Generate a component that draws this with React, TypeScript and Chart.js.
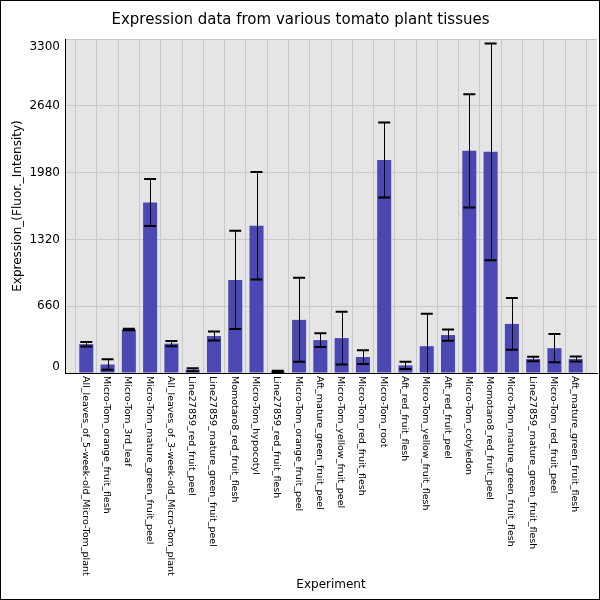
import React, { useEffect, useRef } from 'react';
import { Chart, registerables } from 'chart.js';
Chart.register(...registerables);

const experiments = [
  'All_leaves_of_5-week-old_Micro-Tom_plant',
  'Micro-Tom_orange_fruit_flesh',
  'Micro-Tom_3rd_leaf',
  'Micro-Tom_mature_green_fruit_peel',
  'All_leaves_of_3-week-old_Micro-Tom_plant',
  'Line27859_red_fruit_peel',
  'Line27859_mature_green_fruit_peel',
  'Momotaro8_red_fruit_flesh',
  'Micro-Tom_hypocotyl',
  'Line27859_red_fruit_flesh',
  'Micro-Tom_orange_fruit_peel',
  'Aft_mature_green_fruit_peel',
  'Micro-Tom_yellow_fruit_peel',
  'Micro-Tom_red_fruit_flesh',
  'Micro-Tom_root',
  'Aft_red_fruit_flesh',
  'Micro-Tom_yellow_fruit_flesh',
  'Aft_red_fruit_peel',
  'Micro-Tom_cotyledon',
  'Momotaro8_red_fruit_peel',
  'Micro-Tom_mature_green_fruit_flesh',
  'Line27859_mature_green_fruit_flesh',
  'Micro-Tom_red_fruit_peel',
  'Aft_mature_green_fruit_flesh',
];

const expression = [
  285, 84, 430, 1685, 290, 33, 365, 920, 1455, 15, 525, 325,
  345, 158, 2105, 75, 265, 375, 2195, 2185, 485, 138, 245, 138,
];

const errors = [
  22, 52, 8, 232, 25, 15, 45, 485, 530, 8, 415, 68,
  260, 68, 370, 35, 320, 56, 560, 1070, 255, 22, 140, 25,
];

const yMax = 3300;
const yStep = 660;

const FONT = '"DejaVu Sans", sans-serif';

// grey plot background like the original
const plotBackground = {
  id: 'plotBackground',
  beforeDraw(chart) {
    const { ctx, chartArea } = chart;
    ctx.save();
    ctx.fillStyle = '#e5e5e5';
    ctx.fillRect(chartArea.left, chartArea.top, chartArea.width, chartArea.height);
    ctx.restore();
  },
};

// thin black frame round the whole picture
const frame = {
  id: 'frame',
  afterDraw(chart) {
    const { ctx } = chart;
    ctx.save();
    ctx.strokeStyle = '#000';
    ctx.lineWidth = 1;
    ctx.strokeRect(0.5, 0.5, chart.width - 1, chart.height - 1);
    ctx.restore();
  },
};

// mean +/- error whiskers
const errorBars = {
  id: 'errorBars',
  afterDatasetsDraw(chart) {
    const { ctx, chartArea } = chart;
    const xs = chart.scales.x;
    const ys = chart.scales.y;
    ctx.save();
    ctx.beginPath();
    ctx.rect(chartArea.left, chartArea.top - 4, chartArea.width, chartArea.height + 4);
    ctx.clip();
    ctx.strokeStyle = '#000';
    expression.forEach((v, i) => {
      const px = xs.getPixelForValue(i);
      const hi = ys.getPixelForValue(v + errors[i]);
      const lo = ys.getPixelForValue(v - errors[i]);
      ctx.lineWidth = 1;
      ctx.beginPath();
      ctx.moveTo(Math.round(px) + 0.5, hi);
      ctx.lineTo(Math.round(px) + 0.5, lo);
      ctx.stroke();
      ctx.lineWidth = 2;
      ctx.beginPath();
      ctx.moveTo(px - 6, hi);
      ctx.lineTo(px + 6, hi);
      ctx.moveTo(px - 6, lo);
      ctx.lineTo(px + 6, lo);
      ctx.stroke();
    });
    ctx.restore();
  },
};

// category names rotated clockwise, reading downward from the axis,
// and y tick labels kept inside the plot's height at both ends
const axisLabels = {
  id: 'axisLabels',
  afterDraw(chart) {
    const { ctx } = chart;
    const xs = chart.scales.x;
    const ys = chart.scales.y;
    ctx.save();
    ctx.fillStyle = '#000';
    ctx.font = `9.5px ${FONT}`;
    ctx.textAlign = 'left';
    ctx.textBaseline = 'middle';
    experiments.forEach((name, i) => {
      ctx.save();
      ctx.translate(xs.getPixelForValue(i) - 1, xs.top + 3);
      ctx.rotate(Math.PI / 2);
      ctx.fillText(name, 0, 0);
      ctx.restore();
    });
    ctx.font = `12px ${FONT}`;
    ctx.textAlign = 'right';
    ys.ticks.forEach((t) => {
      const py = Math.min(Math.max(ys.getPixelForValue(t.value), ys.top + 8), ys.bottom - 6);
      ctx.fillText(String(t.value), ys.right - 5, py);
    });
    ctx.restore();
  },
};

export default function App() {
  const canvasRef = useRef<HTMLCanvasElement>(null);

  useEffect(() => {
    document.body.style.margin = '0';
    if (!canvasRef.current) return;

    const chart = new Chart(canvasRef.current, {
      type: 'bar',
      data: {
        datasets: [
          {
            label: 'Expression',
            data: expression.map((v, i) => ({ x: i, y: v })),
            backgroundColor: '#4b48b3',
            borderWidth: 0,
            categoryPercentage: 1,
            barPercentage: 0.66,
          },
        ],
      },
      options: {
        animation: false,
        responsive: true,
        maintainAspectRatio: false,
        layout: { padding: { left: 4, right: 3, top: 0, bottom: 6 } },
        plugins: {
          legend: { display: false },
          tooltip: { enabled: false },
          title: {
            display: true,
            text: 'Expression data from various tomato plant tissues',
            color: '#000',
            font: { family: FONT, size: 15, weight: 'normal' },
            padding: { top: 11, bottom: 10 },
          },
        },
        scales: {
          x: {
            type: 'linear',
            offset: false,
            min: -1,
            max: experiments.length,
            grid: { color: '#c9c9c9', drawTicks: false },
            border: { color: '#000', width: 1 },
            ticks: {
              stepSize: 1,
              autoSkip: false,
              minRotation: 90,
              maxRotation: 90,
              padding: 4,
              color: 'transparent',
              font: { family: FONT, size: 9 },
              callback: () => '',
            },
            title: {
              display: true,
              text: 'Experiment',
              color: '#000',
              font: { family: FONT, size: 12 },
              padding: { top: 2, bottom: 2 },
            },
            afterFit: (scale) => {
              scale.height = 221;
              scale.paddingLeft = 0;
              scale.paddingRight = 0;
            },
          },
          y: {
            min: 0,
            max: yMax,
            grid: { color: '#c9c9c9', drawTicks: false },
            border: { color: '#000', width: 1 },
            ticks: {
              stepSize: yStep,
              padding: 4,
              color: 'transparent',
              font: { family: FONT, size: 12 },
              callback: (v) => String(v),
            },
            title: {
              display: true,
              text: 'Expression_(Fluor._Intensity)',
              color: '#000',
              font: { family: FONT, size: 12 },
              padding: { top: 7, bottom: 4 },
            },
            afterFit: (scale) => {
              scale.width = 61;
              scale.paddingTop = 0;
              scale.paddingBottom = 0;
            },
          },
        },
      },
      plugins: [plotBackground, errorBars, axisLabels, frame],
    });

    return () => chart.destroy();
  }, []);

  return (
    <div style={{ width: 600, height: 600, position: 'relative' }}>
      <canvas ref={canvasRef} />
    </div>
  );
}
